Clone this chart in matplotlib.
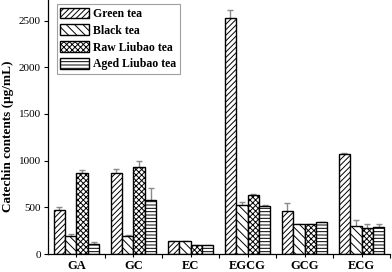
import numpy as np
import matplotlib
matplotlib.use("Agg")
from matplotlib import pyplot as plt

plt.rcParams['font.family'] = ['Liberation Serif', 'DejaVu Serif']
plt.rcParams['hatch.linewidth'] = 0.7

catechins = ['GA', 'GC', 'EC', 'EGCG', 'GCG', 'ECG']
teas = ['Green tea', 'Black tea', 'Raw Liubao tea', 'Aged Liubao tea']

green = [468, 867, 136, 2523, 460, 1075]
black = [190, 193, 136, 528, 321, 303]
raw = [864, 928, 93, 632, 321, 282]
aged = [104, 581, 93, 514, 339, 289]

green_err = [35, 46, 5, 95, 85, 12]
black_err = [24, 10, 5, 30, 5, 60]
raw_err = [39, 70, 5, 15, 5, 36]
aged_err = [24, 122, 5, 10, 8, 30]

values = [green, black, raw, aged]
errors = [green_err, black_err, raw_err, aged_err]
hatches = ['//////', '\\\\\\\\', 'xxxxxx', '-----']

fig = plt.figure(figsize=(3.92, 2.72), dpi=100)
ax = fig.add_axes([0.1224, 0.066, 0.8726, 0.934])

x = np.arange(len(catechins))
w = 0.2
for i in range(4):
    pos = x + (i - 1.5) * w
    ax.errorbar(pos, values[i], yerr=errors[i], fmt='none', ecolor='#8a8a8a',
                elinewidth=1, capsize=2.5, capthick=1, zorder=1)
    ax.bar(pos, values[i], w, facecolor='white', edgecolor='black',
           linewidth=1, hatch=hatches[i], label=teas[i], zorder=2)

ax.set_xlim(-0.5, 5.5)
ax.set_ylim(0, 2720)
ax.set_xticks(x)
ax.set_xticklabels(catechins, fontsize=9, fontweight='bold')
ax.set_xticks(x + 0.5, minor=True)
ax.tick_params(axis='x', which='major', direction='inout', length=5, width=0.8, pad=2)
ax.tick_params(axis='x', which='minor', direction='out', length=3, width=0.8)
ax.set_yticks([0, 500, 1000, 1500, 2000, 2500])
ax.tick_params(axis='y', direction='out', length=3, width=0.8, labelsize=8, pad=2)
ax.set_ylabel('Catechin contents (μg/mL)', fontsize=9.5, fontweight='bold')
ax.yaxis.set_label_coords(-0.1, 0.465)

ax.spines['top'].set_visible(False)
ax.spines['right'].set_visible(False)
ax.spines['left'].set_linewidth(0.9)
ax.spines['bottom'].set_linewidth(0.9)

leg = ax.legend(loc='upper left', bbox_to_anchor=(0.026, 0.984), fancybox=False,
                edgecolor='#888888', prop={'weight': 'bold', 'size': 8.5},
                handlelength=2.4, handleheight=1.0, labelspacing=0.38,
                borderpad=0.3, handletextpad=0.4, borderaxespad=0)
leg.get_frame().set_linewidth(0.8)

fig.savefig('out.png', dpi=100)
